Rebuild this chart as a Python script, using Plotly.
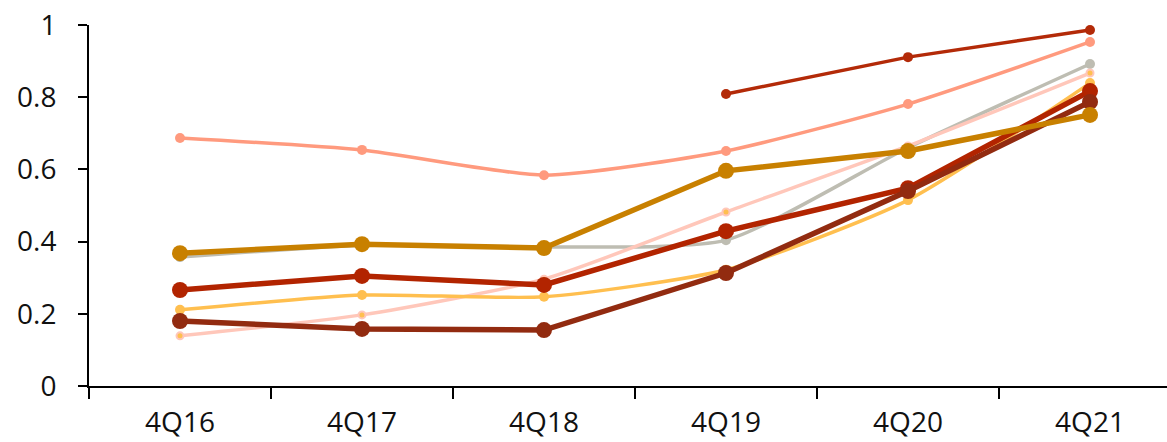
import plotly.graph_objects as go

quarters = ["4Q16", "4Q17", "4Q18", "4Q19", "4Q20", "4Q21"]

series_a = [None, None, None, 0.809, 0.911, 0.986]
series_b = [0.687, 0.654, 0.584, 0.651, 0.781, 0.953]
series_c = [0.357, 0.390, 0.385, 0.404, 0.660, 0.892]
series_d = [0.139, 0.197, 0.296, 0.482, 0.665, 0.867]
series_e = [0.211, 0.252, 0.247, 0.322, 0.515, 0.839]
series_f = [0.266, 0.305, 0.280, 0.429, 0.548, 0.817]
series_g = [0.180, 0.158, 0.155, 0.313, 0.540, 0.787]
series_h = [0.368, 0.393, 0.382, 0.596, 0.651, 0.751]

# (values, line colour, marker fill, marker outline, width, marker size, shape)
styles = [
    (series_a, "#B32A08", "#B32A08", "#B32A08", 3.5, 10, "linear"),
    (series_b, "#FF9A7E", "#FF9A7E", "#FF9A7E", 3.5, 10, "spline"),
    (series_c, "#BEBDB2", "#BEBDB2", "#BEBDB2", 3.5, 10, "spline"),
    (series_d, "#FFC7BA", "#FFBF4F", "#FFC7BA", 3.5, 7, "spline"),
    (series_e, "#FFBF4F", "#FFBF4F", "#FFBF4F", 3.5, 10, "spline"),
    (series_f, "#B22400", "#B22400", "#B22400", 5.5, 16, "linear"),
    (series_g, "#922B10", "#922B10", "#922B10", 5.5, 16, "linear"),
    (series_h, "#C88000", "#C88000", "#C88000", 5.5, 16, "linear"),
]

fig = go.Figure()
for vals, lc, mc, ml, w, ms, shape in styles:
    fig.add_trace(go.Scatter(
        x=quarters, y=vals, mode="lines+markers",
        line=dict(color=lc, width=w, shape=shape, smoothing=0.6),
        marker=dict(color=mc, size=ms, line=dict(color=ml, width=2 if ml != mc else 0)),
        connectgaps=False, showlegend=False,
    ))

tick_font = dict(family="Open Sans, Noto Sans, sans-serif", size=28, color="#111111")

fig.update_layout(
    width=1167, height=442,
    margin=dict(l=89, r=0, t=25, b=56),
    paper_bgcolor="white", plot_bgcolor="white",
    font=tick_font,
)
fig.update_xaxes(
    type="category", range=[-0.5, 5.423], automargin=False,
    showline=True, linecolor="black", linewidth=2,
    ticks="outside", tickson="boundaries", ticklen=11, tickwidth=2, tickcolor="black",
    showgrid=False, zeroline=False, ticklabelstandoff=10, tickfont=tick_font,
)
fig.update_yaxes(
    range=[0, 1], tickvals=[0, 0.2, 0.4, 0.6, 0.8, 1], automargin=False,
    ticktext=["0", "0.2", "0.4", "0.6", "0.8", "1"],
    showline=True, linecolor="black", linewidth=2,
    ticks="outside", ticklen=9, tickwidth=2, tickcolor="black",
    showgrid=False, zeroline=False, ticklabelstandoff=16, tickfont=tick_font,
)

fig.write_html("out.html")
